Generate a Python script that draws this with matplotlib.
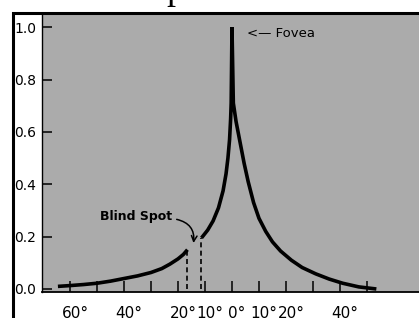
import matplotlib.pyplot as plt
import matplotlib.transforms as mtransforms
from matplotlib.patches import Rectangle

# visual angle (deg, negative = temporal side) vs relative acuity
outer_x = [-64.5, -60, -55, -50, -45, -40, -35, -30, -26, -23, -20, -18, -16.5]
outer_y = [0.01, 0.013, 0.017, 0.022, 0.03, 0.04, 0.05, 0.063, 0.078, 0.095, 0.115, 0.132, 0.15]

center_x = [-11.3, -9, -7, -5, -3.3, -2.2, -1.5, -0.9, -0.5, -0.3, 0, 0.5, 1.5, 3, 4.5, 6, 8, 10,
            12.5, 15, 18, 22, 26, 31, 36, 41, 47, 53.5]
center_y = [0.195, 0.225, 0.26, 0.31, 0.375, 0.44, 0.50, 0.57, 0.65, 0.71, 1.0, 0.71, 0.64, 0.56,
            0.48, 0.41, 0.33, 0.27, 0.22, 0.18, 0.145, 0.11, 0.082, 0.058, 0.038, 0.022, 0.008, 0.0]

blind_x = [-16.5, -11.3]
blind_y = [0.15, 0.195]

xticks = [-60, -50, -40, -30, -20, -10, 0, 10, 20, 30, 40, 50]
xlabels = ['60°', '', '40°', '', '20°', '10°', '0°', '10°', '20°', '', '40°', '']
yticks = [0.0, 0.2, 0.4, 0.6, 0.8, 1.0]
ylabels = ['0.0', '0.2', '0.4', '0.6', '0.8', '1.0']

W, H = 419, 318
fig = plt.figure(figsize=(W / 100, H / 100), dpi=100)
fig.patch.set_facecolor('white')

ax = fig.add_axes([42 / W, (H - 292) / H, 1 - 42 / W, (292 - 13) / H])
ax.set_facecolor('#ababab')
ax.set_xlim(-70.4, 69.3)
ax.set_ylim(-0.0115, 1.054)
for s in ['top', 'right']:
    ax.spines[s].set_visible(False)
ax.spines['left'].set_linewidth(1.0)
ax.spines['bottom'].set_linewidth(1.3)

ax.plot(outer_x, outer_y, color='black', lw=2.6, solid_capstyle='butt', solid_joinstyle='round')
ax.plot(center_x, center_y, color='black', lw=2.6, solid_capstyle='butt', solid_joinstyle='miter')
ax.vlines(blind_x, 0, blind_y, colors='black', linestyles=(0, (3, 2)), lw=1.2)

ax.set_xticks(xticks)
ax.set_xticklabels(xlabels)
ax.set_yticks(yticks)
ax.set_yticklabels(ylabels)
ax.tick_params(axis='x', direction='in', length=8, width=1.1, pad=10, labelsize=11)
ax.tick_params(axis='y', direction='in', length=7, width=1.1, pad=4, labelsize=10)
# digits sit on the tick, degree sign hangs to the right
shift = mtransforms.ScaledTranslation(5 / 100, 0, fig.dpi_scale_trans)
for lab in ax.get_xticklabels():
    lab.set_transform(lab.get_transform() + shift)

ax.text(-35.5, 0.276, 'Blind Spot', fontsize=9, fontweight='bold', ha='center', va='center')
ax.annotate('', xy=(-14.4, 0.165), xytext=(-21.5, 0.268),
            arrowprops=dict(arrowstyle='->', connectionstyle='arc3,rad=-0.5', lw=1.1, color='black'))
ax.text(5.6, 0.977, '<— Fovea', fontsize=9.5, ha='left', va='center')

# outer frame of the slide
fig.add_artist(Rectangle((12.5 / W, -0.1), 1.0, (H - 12.5) / H + 0.1,
                         transform=fig.transFigure, fill=False, ec='black', lw=2.2))
# cut-off title glyph at the top edge
fig.text(175 / W, 1.0 + 1 / H, 'p', family='Liberation Serif', fontsize=26,
         ha='center', va='baseline')

fig.savefig('out.png', dpi=100)
